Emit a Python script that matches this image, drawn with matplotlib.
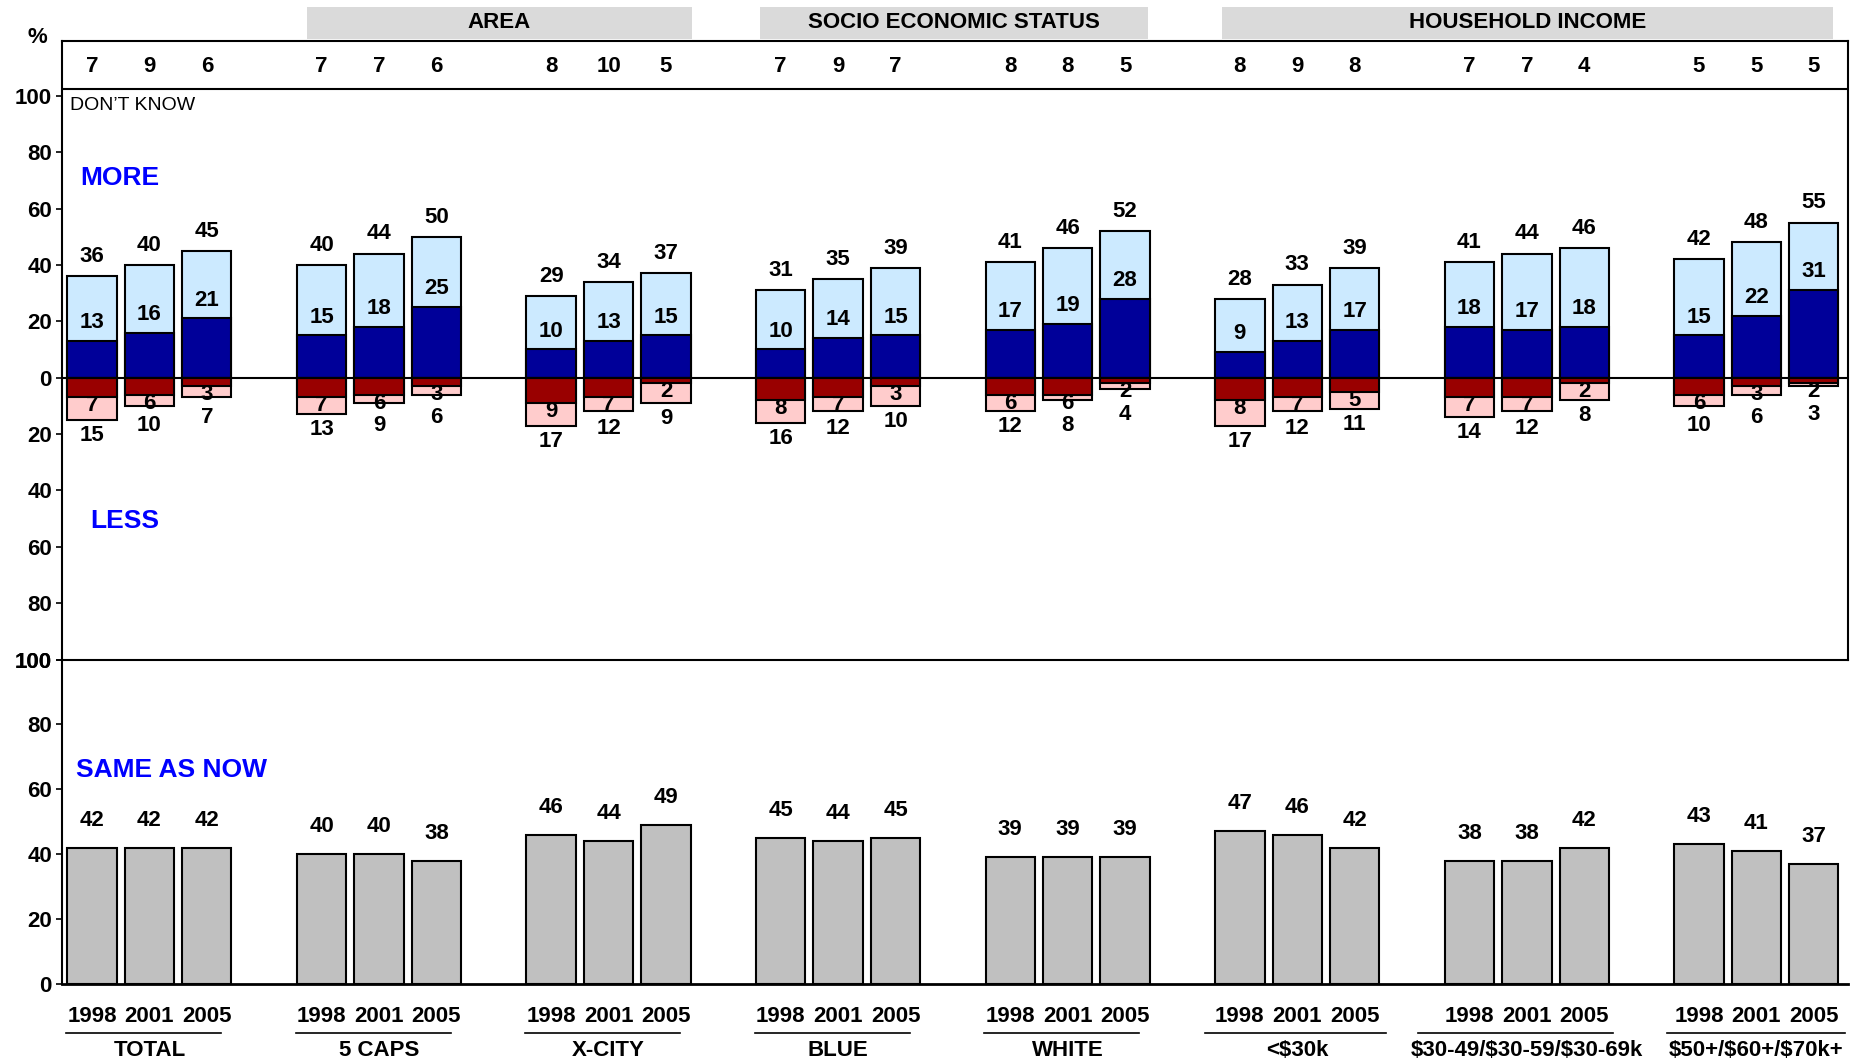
import numpy as np
import matplotlib.pyplot as plt
from matplotlib.patches import Rectangle
import matplotlib.transforms as mtransforms

plt.rcParams['font.family'] = ['Liberation Sans', 'DejaVu Sans']
plt.rcParams['font.weight'] = 'bold'

# Survey breakdowns
groups = ['TOTAL', '5 CAPS', 'X-CITY', 'BLUE', 'WHITE', '<$30k',
          '$30-49/$30-59/$30-69k', '$50+/$60+/$70k+']
years = ['1998', '2001', '2005']

dont_know = [[7, 9, 6], [7, 7, 6], [8, 10, 5], [7, 9, 7],
             [8, 8, 5], [8, 9, 8], [7, 7, 4], [5, 5, 5]]
more_total = [[36, 40, 45], [40, 44, 50], [29, 34, 37], [31, 35, 39],
              [41, 46, 52], [28, 33, 39], [41, 44, 46], [42, 48, 55]]
more_lot = [[13, 16, 21], [15, 18, 25], [10, 13, 15], [10, 14, 15],
            [17, 19, 28], [9, 13, 17], [18, 17, 18], [15, 22, 31]]
less_total = [[15, 10, 7], [13, 9, 6], [17, 12, 9], [16, 12, 10],
              [12, 8, 4], [17, 12, 11], [14, 12, 8], [10, 6, 3]]
less_lot = [[7, 6, 3], [7, 6, 3], [9, 7, 2], [8, 7, 3],
            [6, 6, 2], [8, 7, 5], [7, 7, 2], [6, 3, 2]]
same = [[42, 42, 42], [40, 40, 38], [46, 44, 49], [45, 44, 45],
        [39, 39, 39], [47, 46, 42], [38, 38, 42], [43, 41, 37]]

headers = ['AREA', 'SOCIO ECONOMIC STATUS', 'HOUSEHOLD INCOME']
header_groups = [(1, 2), (3, 4), (5, 7)]

LIGHT_BLUE = '#cceaff'
NAVY = '#000099'
DARK_RED = '#990000'
PINK = '#ffcccc'
GREY = '#c0c0c0'
HEAD_GREY = '#dadada'
FS = 16

n_groups = len(groups)
centers = np.arange(n_groups) * 4.0
x = (centers[:, None] + np.array([-1, 0, 1])[None, :]).ravel()
w = 0.86

def flat(v):
    return np.array(v, dtype=float).ravel()

dk, mt, ml = flat(dont_know), flat(more_total), flat(more_lot)
lt, ll, sm = flat(less_total), flat(less_lot), flat(same)

fig = plt.figure(figsize=(18.56, 10.62), dpi=100)
ax_top = fig.add_axes([0.0332, 0.379, 0.9623, 0.582])
ax_bot = fig.add_axes([0.0332, 0.0736, 0.9623, 0.3054])

xlim = (-1.53, 29.59)

# ---- top panel: more / less ----
kw = dict(width=w, edgecolor='black', linewidth=1.5, zorder=2)
ax_top.bar(x, mt, color=LIGHT_BLUE, **kw)
ax_top.bar(x, ml, color=NAVY, **kw)
ax_top.bar(x, -lt, color=PINK, **kw)
ax_top.bar(x, -ll, color=DARK_RED, **kw)
ax_top.axhline(0, color='black', lw=1.5, zorder=3)
ax_top.axhline(102.5, color='black', lw=1.5, zorder=3)

for xi, d, t, l, lt_i, ll_i in zip(x, dk, mt, ml, lt, ll):
    ax_top.text(xi, 110.5, f'{d:.0f}', ha='center', va='center', fontsize=FS)
    ax_top.text(xi, t + 7, f'{t:.0f}', ha='center', va='center', fontsize=FS)
    ax_top.text(xi, l + 6.5, f'{l:.0f}', ha='center', va='center', fontsize=FS, zorder=4)
    inner = -(ll_i + 3)
    ax_top.text(xi, inner, f'{ll_i:.0f}', ha='center', va='center', fontsize=FS, zorder=4)
    outer = min(-(lt_i + 5.5), inner - 8)
    ax_top.text(xi, outer, f'{lt_i:.0f}', ha='center', va='center', fontsize=FS, zorder=4)

ax_top.set_xlim(*xlim)
ax_top.set_ylim(-100, 119.3)
ticks = np.arange(-100, 101, 20)
ax_top.set_yticks(ticks)
ax_top.set_yticklabels([str(abs(t)) for t in ticks])
ax_top.set_xticks([])
for s in ax_top.spines.values():
    s.set_linewidth(1.5)
ax_top.tick_params(axis='y', labelsize=FS, length=4, width=1.2, pad=3)

ax_top.text(-1.38, 96.5, "DON\u2019T KNOW", fontsize=14, fontweight='normal',
            va='center', ha='left')
ax_top.text(-1.2, 71, 'MORE', fontsize=19, color='#0000ff', va='center', ha='left')
ax_top.text(-1.03, -51, 'LESS', fontsize=19, color='#0000ff', va='center', ha='left')

# group header boxes above the frame
trans = mtransforms.blended_transform_factory(ax_top.transData, ax_top.transAxes)
box_extents = [(-1.26, 1.46), (-1.36, 1.4), (-1.32, 1.34)]
for name, (g0, g1), (l, r) in zip(headers, header_groups, box_extents):
    x0 = centers[g0] + l
    x1 = centers[g1] + r
    ax_top.add_patch(Rectangle((x0, 1.004), x1 - x0, 0.052, transform=trans,
                               facecolor=HEAD_GREY, edgecolor='none', clip_on=False))
    ax_top.text((x0 + x1) / 2, 1.03, name, transform=trans, ha='center',
                va='center', fontsize=FS)

fig.text(0.02, 0.965, '%', fontsize=FS, ha='center', va='center')

# ---- bottom panel: same as now ----
ax_bot.bar(x, sm, color=GREY, **kw)
for xi, v in zip(x, sm):
    ax_bot.text(xi, v + 8.5, f'{v:.0f}', ha='center', va='center', fontsize=FS)
ax_bot.text(-1.28, 66, 'SAME AS NOW', fontsize=19, color='#0000ff', va='center', ha='left')

ax_bot.set_xlim(*xlim)
ax_bot.set_ylim(0, 100)
ax_bot.set_yticks(np.arange(0, 101, 20))
ax_bot.set_xticks(x)
ax_bot.set_xticklabels(years * n_groups)
ax_bot.tick_params(axis='x', length=0, labelsize=FS, pad=16)
ax_bot.tick_params(axis='y', labelsize=FS, length=4, width=1.2, pad=3)
ax_bot.spines['top'].set_visible(False)
ax_bot.spines['right'].set_visible(False)
ax_bot.spines['left'].set_linewidth(1.5)
ax_bot.spines['bottom'].set_linewidth(2)
ax_bot.patch.set_alpha(0)

# underline extents around each group centre
underline = [(-1.45, 1.25)] * 5 + [(-1.6, 1.55), (-1.9, 1.5), (-1.55, 1.55)]
tb = mtransforms.blended_transform_factory(ax_bot.transData, ax_bot.transAxes)
for c, name, (l, r) in zip(centers, groups, underline):
    ax_bot.plot([c + l, c + r], [-0.152, -0.152], transform=tb,
                color='black', lw=1.2, clip_on=False)
    ax_bot.text(c, -0.205, name, transform=tb, ha='center', va='center', fontsize=FS)

fig.savefig('out.png', dpi=100)
